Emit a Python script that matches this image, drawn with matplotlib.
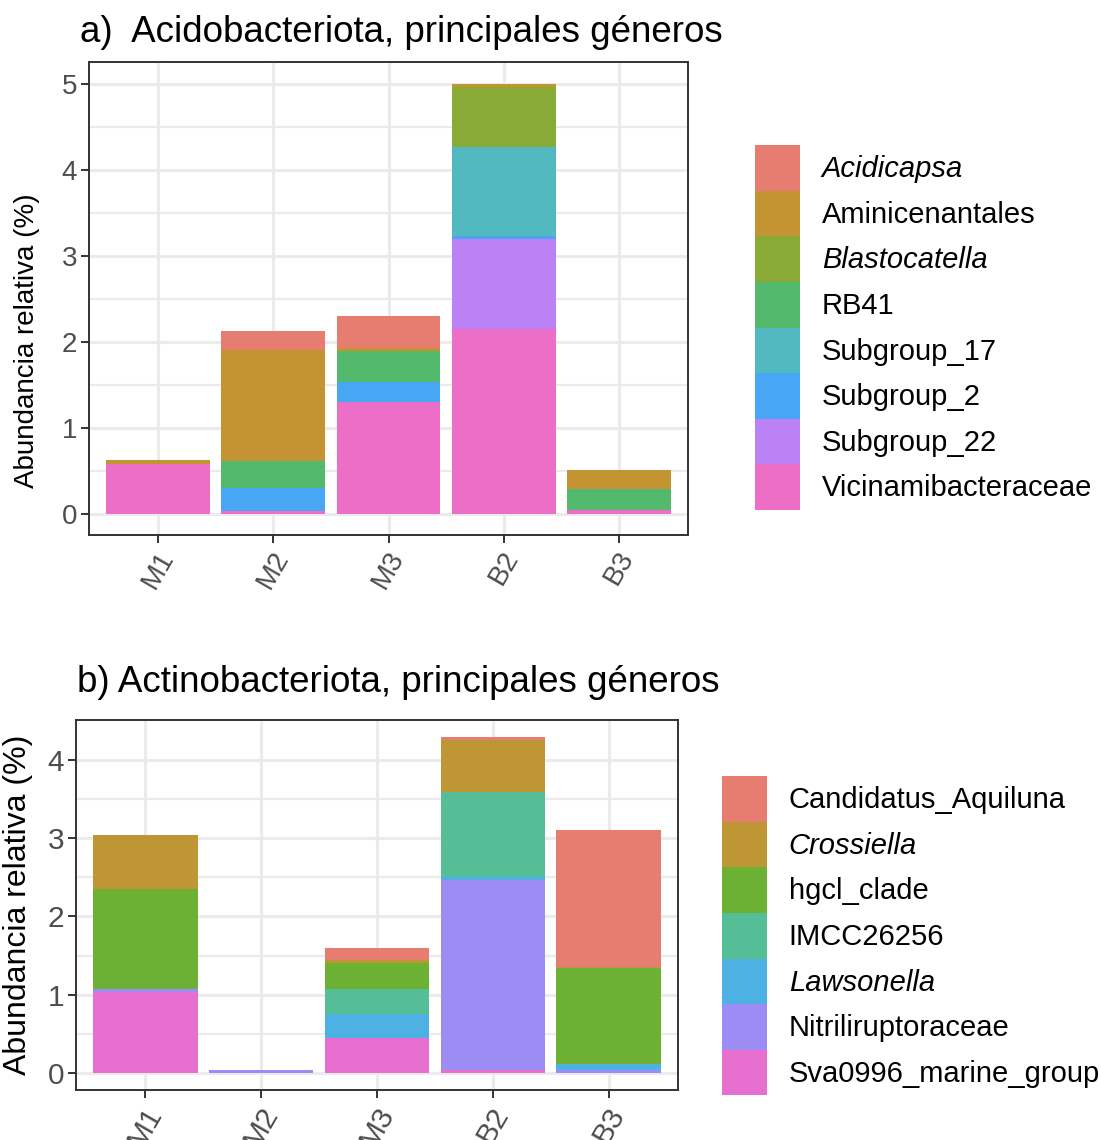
import numpy as np
import matplotlib
matplotlib.use("Agg")
import matplotlib.pyplot as plt
from matplotlib.patches import Patch

plt.rcParams['font.family'] = ['Liberation Sans', 'DejaVu Sans']

samples = ["M1", "M2", "M3", "B2", "B3"]

# Acidobacteriota genera (% relative abundance), legend order top -> bottom
acido_genera = ["Acidicapsa", "Aminicenantales", "Blastocatella", "RB41",
                "Subgroup_17", "Subgroup_2", "Subgroup_22", "Vicinamibacteraceae"]
acido_italic = ["Acidicapsa", "Blastocatella"]
acido_colors = ["#E67D70", "#C49332", "#8AAA36", "#52B96D",
                "#52B9C1", "#47A7F4", "#BA82F4", "#EC6EC7"]
acidicapsa = [0.00, 0.22, 0.38, 0.00, 0.00]
aminicenantales = [0.04, 1.29, 0.03, 0.04, 0.22]
blastocatella = [0.00, 0.00, 0.00, 0.70, 0.00]
rb41 = [0.00, 0.31, 0.36, 0.00, 0.25]
subgroup_17 = [0.00, 0.00, 0.00, 1.03, 0.00]
subgroup_2 = [0.00, 0.27, 0.23, 0.04, 0.00]
subgroup_22 = [0.00, 0.00, 0.00, 1.04, 0.00]
vicinamibacteraceae = [0.58, 0.03, 1.30, 2.15, 0.04]
acido_values = [acidicapsa, aminicenantales, blastocatella, rb41,
                subgroup_17, subgroup_2, subgroup_22, vicinamibacteraceae]

# Actinobacteriota genera
actino_genera = ["Candidatus_Aquiluna", "Crossiella", "hgcl_clade", "IMCC26256",
                 "Lawsonella", "Nitriliruptoraceae", "Sva0996_marine_group"]
actino_italic = ["Crossiella", "Lawsonella"]
actino_colors = ["#E67D70", "#BE9734", "#6CB134", "#55BE97",
                 "#4EB1E3", "#9E8CF5", "#E76FD0"]
candidatus_aquiluna = [0.00, 0.00, 0.16, 0.04, 1.74]
crossiella = [0.69, 0.00, 0.04, 0.67, 0.02]
hgcl_clade = [1.28, 0.00, 0.33, 0.00, 1.22]
imcc26256 = [0.00, 0.00, 0.32, 1.08, 0.00]
lawsonella = [0.00, 0.00, 0.30, 0.04, 0.08]
nitriliruptoraceae = [0.04, 0.04, 0.00, 2.42, 0.04]
sva0996 = [1.03, 0.00, 0.45, 0.04, 0.00]
actino_values = [candidatus_aquiluna, crossiella, hgcl_clade, imcc26256,
                 lawsonella, nitriliruptoraceae, sva0996]

W, H = 1101, 1140
fig = plt.figure(figsize=(W / 100, H / 100), dpi=100)


def px_axes(left, top, right, bottom):
    return fig.add_axes([left / W, 1 - bottom / H, (right - left) / W, (bottom - top) / H])


def stacked_panel(ax, genera, values, colors, tick_size, label_size):
    x = np.arange(len(samples))
    bottom = np.zeros(len(samples))
    # first genus sits on top of the stack, like ggplot
    for name, vals, col in reversed(list(zip(genera, values, colors))):
        vals = np.array(vals)
        ax.bar(x, vals, width=0.9, bottom=bottom, color=col, linewidth=0, zorder=3)
        bottom += vals
    top = bottom.max()
    ax.set_ylim(-0.05 * top, 1.05 * top)
    ax.set_xlim(-0.6, len(samples) - 0.4)
    ax.set_xticks(x)
    ax.set_xticklabels(samples, rotation=60, ha="center", va="top")
    ax.set_yticks(np.arange(0, int(top) + 1))
    ax.set_yticks(np.arange(0.5, top, 1.0), minor=True)
    ax.set_xticks([], minor=True)
    ax.grid(which="major", color="#EBEBEB", linewidth=2.2, zorder=0)
    ax.grid(which="minor", axis="y", color="#EBEBEB", linewidth=1.6, zorder=0)
    ax.set_axisbelow(True)
    ax.tick_params(which="major", length=5.5, width=1.4, color="#333333",
                   labelsize=tick_size, labelcolor="#4D4D4D", pad=3)
    ax.tick_params(which="minor", length=0)
    for s in ax.spines.values():
        s.set_color("#333333")
        s.set_linewidth(1.4)
        s.set_zorder(5)
    ax.set_ylabel("Abundancia relativa (%)", fontsize=label_size)


def add_legend(ax, genera, colors, italic, left, top):
    handles = [Patch(facecolor=c, edgecolor="none") for c in colors]
    leg = ax.legend(handles, genera, loc="upper left",
                    bbox_to_anchor=(left / W, 1 - top / H),
                    bbox_transform=fig.transFigure, frameon=False,
                    fontsize=21, handlelength=1.54, handleheight=2.03,
                    handletextpad=0.75, labelspacing=0, borderpad=0,
                    borderaxespad=0)
    for t in leg.get_texts():
        if t.get_text() in italic:
            t.set_style("italic")


# a) Acidobacteriota
ax_a = px_axes(89, 62, 688, 535)
stacked_panel(ax_a, acido_genera, acido_values, acido_colors, 20, 20)
ax_a.yaxis.set_label_coords(-0.082, 0.41)
add_legend(ax_a, acido_genera, acido_colors, acido_italic, 755, 145)
fig.text(80 / W, 1 - 42 / H, "a)  Acidobacteriota, principales géneros",
         fontsize=26.5, va="baseline", ha="left")

# b) Actinobacteriota
ax_b = px_axes(76, 720, 678, 1090)
stacked_panel(ax_b, actino_genera, actino_values, actino_colors, 21.5, 23)
ax_b.yaxis.set_label_coords(-0.071, 0.5)
add_legend(ax_b, actino_genera, actino_colors, actino_italic, 722, 776)
fig.text(77 / W, 1 - 692 / H, "b) Actinobacteriota, principales géneros",
         fontsize=26.5, va="baseline", ha="left")

fig.savefig("out.png", dpi=100, facecolor="white")
